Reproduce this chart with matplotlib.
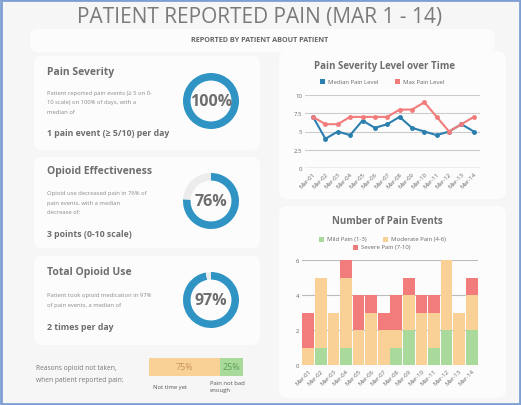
import matplotlib
matplotlib.use('Agg')
import matplotlib.pyplot as plt
from matplotlib.patches import FancyBboxPatch, Rectangle

plt.rcParams['font.family'] = ['Open Sans', 'DejaVu Sans']

W, H = 521, 406

# data
days = ['Mar-01', 'Mar-02', 'Mar-03', 'Mar-04', 'Mar-05', 'Mar-06', 'Mar-07',
        'Mar-08', 'Mar-09', 'Mar-10', 'Mar-11', 'Mar-12', 'Mar-13', 'Mar-14']
median_pain = [7, 4, 5, 4.5, 6.5, 5.5, 6, 7, 5.5, 5, 4.5, 5, 6, 5]
max_pain = [7, 6, 6, 7, 7, 7, 7, 8, 8, 9, 7, 5, 6, 7]
line_names = ['Median Pain Level', 'Max Pain Level']

mild = [0, 1, 0, 1, 0, 0, 0, 1, 2, 0, 1, 2, 0, 2]
moderate = [1, 4, 3, 4, 2, 3, 2, 1, 2, 3, 2, 4, 3, 2]
severe = [2, 0, 0, 1, 2, 1, 1, 2, 1, 1, 1, 0, 0, 1]
bar_names = ['Mild Pain (1-3)', 'Moderate Pain (4-6)', 'Severe Pain (7-10)']

donut_values = [100, 76, 97]
reasons = ['Not time yet', 'Pain not bad\nenough']
reason_pct = [75, 25]

BLUE = '#2f94c3'
LBLUE = '#2b7fae'
RED = '#f27c7c'
GREEN = '#a9da9c'
ORANGE = '#f9d095'
GRAY = '#6e6e6e'


def rect(x0, y0, x1, y1):
    return [x0 / W, 1 - y1 / H, (x1 - x0) / W, (y1 - y0) / H]


fig = plt.figure(figsize=(W / 100, H / 100), dpi=100)
fig.patch.set_facecolor('#f6f6f6')

bg = fig.add_axes([0, 0, 1, 1])
bg.set_xlim(0, W)
bg.set_ylim(H, 0)
bg.axis('off')

# cards
for x0, y0, x1, y1 in [(34, 57, 260, 151), (34, 158, 260, 249), (34, 257, 260, 346),
                       (279, 52, 506, 200), (279, 207, 506, 399), (30, 30, 495, 53)]:
    bg.add_patch(FancyBboxPatch((x0, y0), x1 - x0, y1 - y0,
                                boxstyle='round,pad=0,rounding_size=8',
                                fc='#fcfcfc', ec='none'))
bg.add_patch(Rectangle((1, 1), W - 2, H - 2, fc='none', ec='#7f9fd3', lw=2))

# header
bg.text(260, 18, 'PATIENT REPORTED PAIN (MAR 1 - 14)', fontsize=15, color='#7a7a7a',
        ha='center', va='center')
bg.text(260, 41, 'REPORTED BY PATIENT ABOUT PATIENT', fontsize=5.2, color='#666666',
        fontweight='bold', ha='center', va='center')

# left cards
cards = [
    (73, 'Pain Severity',
     ['Patient reported pain events (\u2265 5 on 0-', '10 scale) on 100% of days, with a', 'median of'],
     93, '1 pain event (\u2265 5/10) per day', 134),
    (172, 'Opioid Effectiveness',
     ['Opioid use decreased pain in 76% of', 'pain events, with a median', 'decrease of:'],
     194, '3 points (0-10 scale)', 235),
    (273, 'Total Opioid Use',
     ['Patient took opioid medication in 97%', 'of pain events, a median of'],
     296, '2 times per day', 328),
]
for ty, head, desc, dy, big, by in cards:
    bg.text(47, ty, head, fontsize=7.5, fontweight='bold', color=GRAY, va='center')
    for i, line in enumerate(desc):
        bg.text(47, dy + i * 9.5, line, fontsize=4.2, color='#8a8a8a', va='center')
    bg.text(47, by, big, fontsize=6.3, fontweight='bold', color=GRAY, va='center')

centers = [(211, 102), (211, 202), (211, 301)]
for (cx, cy), val in zip(centers, donut_values):
    r = 35
    ax = fig.add_axes(rect(cx - r, cy - r, cx + r, cy + r))
    ax.pie([val, 100 - val], startangle=90, counterclock=False,
           colors=[BLUE, '#ececec'], wedgeprops=dict(width=0.27, edgecolor='none'))
    ax.set_aspect('equal')
    ax.text(0, 0, f'{val}%', fontsize=11.5, fontweight='bold', color=GRAY,
            ha='center', va='center')

# reasons bar
bg.text(36, 369, 'Reasons opioid not taken,', fontsize=4.8, color='#777777', va='center')
bg.text(36, 381, 'when patient reported pain:', fontsize=4.8, color='#777777', va='center')
axr = fig.add_axes(rect(149, 359, 243, 377))
left = 0
for pct, col, tcol in zip(reason_pct, [ORANGE, GREEN], ['#c9955a', '#5e9f57']):
    axr.barh(0, pct, left=left, color=col, height=1)
    axr.text(left + pct / 2, 0, f'{pct}%', fontsize=6.5, color=tcol, ha='center', va='center')
    left += pct
axr.set_xlim(0, 100)
axr.set_ylim(-0.5, 0.5)
axr.axis('off')
bg.text(170, 388, reasons[0], fontsize=4.2, color='#555555', ha='center', va='center')
bg.text(210, 387, reasons[1], fontsize=4.2, color='#555555', ha='left', va='center',
        linespacing=1.6)

# line chart
bg.text(385, 67, 'Pain Severity Level over Time', fontsize=7, fontweight='bold',
        color=GRAY, ha='center', va='center')
for sx, col, name in [(322, LBLUE, line_names[0]), (397, RED, line_names[1])]:
    bg.add_patch(Rectangle((sx - 2.5, 80), 5, 5, fc=col, ec='none'))
    bg.text(sx + 6, 82.5, name, fontsize=4.3, color='#666666', va='center')

axl = fig.add_axes(rect(305, 96, 480, 169))
x = list(range(len(days)))
axl.plot(x, median_pain, color=LBLUE, lw=1.5, marker='o', ms=2.5)
axl.plot(x, max_pain, color=RED, lw=1.5, marker='o', ms=2.5)
axl.set_xlim(-0.65, 13.5)
axl.set_ylim(0, 10)
axl.set_yticks([0, 2.5, 5, 7.5, 10])
axl.set_yticklabels(['0', '2.5', '5', '7.5', '10'])
axl.set_xticks(x)
axl.set_xticklabels(days, rotation=45, ha='right', rotation_mode='anchor')
axl.grid(axis='y', color='#cccccc', lw=0.8)
axl.set_axisbelow(True)
axl.axhline(0, color='#999999', lw=0.9)
axl.set_facecolor('none')
for s in axl.spines.values():
    s.set_visible(False)
axl.tick_params(length=0, labelsize=4.3, labelcolor='#666666', pad=2)

# bar chart
bg.text(387, 222, 'Number of Pain Events', fontsize=7, fontweight='bold',
        color=GRAY, ha='center', va='center')
for sx, sy, col, name in [(321, 240, GREEN, bar_names[0]), (385, 240, ORANGE, bar_names[1]),
                          (355, 248, RED, bar_names[2])]:
    bg.add_patch(Rectangle((sx - 2.5, sy - 2.5), 5, 5, fc=col, ec='none'))
    bg.text(sx + 6, sy, name, fontsize=4.3, color='#666666', va='center')

axb = fig.add_axes(rect(302, 261, 478, 366))
bottom2 = [a + b for a, b in zip(mild, moderate)]
axb.bar(x, mild, width=0.94, color=GREEN)
axb.bar(x, moderate, bottom=mild, width=0.94, color=ORANGE)
axb.bar(x, severe, bottom=bottom2, width=0.94, color=RED)
axb.set_xlim(-0.5, 13.5)
axb.set_ylim(0, 6)
axb.set_yticks([0, 2, 4, 6])
axb.set_xticks(x)
axb.set_xticklabels(days, rotation=45, ha='right', rotation_mode='anchor')
axb.grid(axis='y', color='#bbbbbb', lw=0.8)
axb.set_axisbelow(True)
axb.set_facecolor('none')
for s in axb.spines.values():
    s.set_visible(False)
axb.tick_params(length=0, labelsize=4.3, labelcolor='#666666', pad=2)

fig.savefig('out.png', dpi=100, facecolor=fig.get_facecolor())
